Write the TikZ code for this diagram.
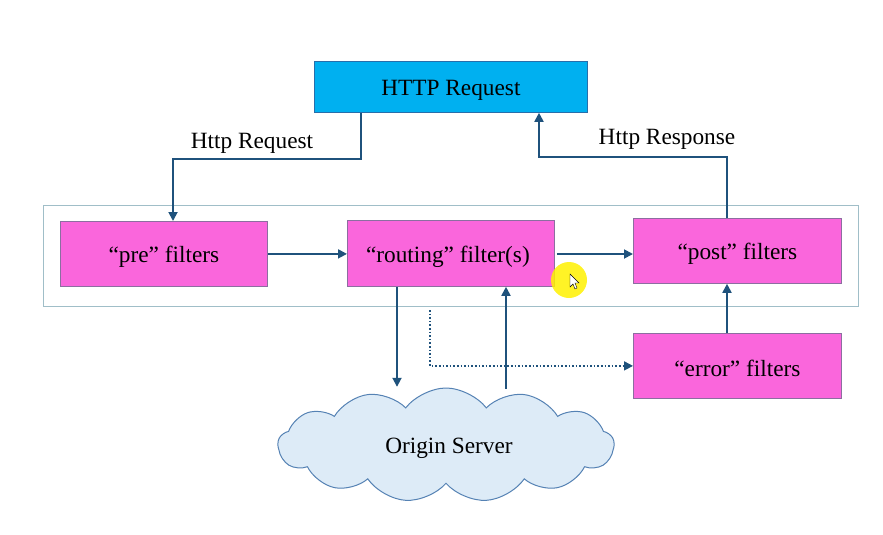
\documentclass[tikz,border=0pt]{standalone}
\usepackage{fontspec}
\setmainfont{Liberation Serif}
\usetikzlibrary{shapes.symbols,arrows.meta}
\definecolor{arrc}{RGB}{31,82,124}
\definecolor{pinkf}{RGB}{250,102,220}
\definecolor{pinkd}{RGB}{140,110,160}
\definecolor{httpf}{RGB}{0,176,240}
\definecolor{httpd}{RGB}{40,110,170}
\definecolor{framec}{RGB}{160,190,200}
\definecolor{cloudf}{RGB}{221,235,247}
\definecolor{cloudd}{RGB}{85,130,180}
\begin{document}
\begin{tikzpicture}[x=1pt,y=-1pt,
  every node/.style={font=\fontsize{23.3}{27}\selectfont},
  filterbox/.style={draw=pinkd, line width=0.8pt, fill=pinkf, inner sep=0pt, anchor=north west},
  arr/.style={draw=arrc, line width=1.8pt, -{Triangle[length=9pt,width=9pt]}},
  dotarr/.style={draw=arrc, line width=1.6pt, dotted, -{Triangle[length=9pt,width=9pt]}}]
\useasboundingbox (0,0) rectangle (883,535);
\fill[white] (0,0) rectangle (883,535);
% frame
\node[draw=framec, line width=1.2pt, inner sep=0pt, anchor=north west, minimum width=815pt, minimum height=101pt] (frame) at (43,205) {};
% boxes
\node[draw=httpd, line width=0.8pt, fill=httpf, inner sep=0pt, anchor=north west, minimum width=273pt, minimum height=51pt] (http) at (314,61) {};
\node at ([yshift=-3pt]http.center) {HTTP Request};
\node[filterbox, minimum width=207pt, minimum height=65pt] (pre) at (60,221) {};
\node at ([yshift=-3pt]pre.center) {“pre” filters};
\node[filterbox, minimum width=207pt, minimum height=66pt] (routing) at (347,220) {};
\node at ([xshift=-3pt,yshift=-3pt]routing.center) {“routing” filter(s)};
\node[filterbox, minimum width=208pt, minimum height=65pt] (post) at (633,218) {};
\node at ([yshift=-3pt]post.center) {“post” filters};
\node[filterbox, minimum width=208pt, minimum height=65pt] (error) at (633,333) {};
\node at ([yshift=-3pt]error.center) {“error” filters};
% cloud
\node[cloud, cloud puffs=13, cloud puff arc=105, cloud ignores aspect, draw=cloudd, line width=1pt, fill=cloudf, minimum width=336pt, minimum height=114pt] (cloud) at (446,445) {};
\node at (449,448) {Origin Server};
% labels
\node (lreq) at (252,143) {Http Request};
\node (lresp) at (667,139) {Http Response};
% connectors
\draw[arr] ([xshift=47pt]http.south west) -- ++(0,46) -| ([xshift=113pt]pre.north west);
\draw[arr] ([xshift=94pt]post.north west) -- ++(0,-61) -| ([xshift=225pt]http.south west);
\draw[arr] (pre.east) -- (pre.east -| routing.west);
\draw[arr] ([xshift=2pt,yshift=-0.6pt]routing.east) -- ([yshift=-0.6pt]routing.east -| post.west);
\draw[arr] ([xshift=50pt]routing.south west) -- ++(0,100);
\draw[arr] ([xshift=159pt]routing.south west) ++(0,102) -- ([xshift=159pt]routing.south west);
\coordinate (d0) at (430,310);
\draw[dotarr] (d0) |- (error.west);
\draw[arr] ([xshift=94pt]error.north west) -- ([xshift=94pt]post.south west);
% cursor highlight
\fill[yellow, opacity=0.85] (569,280) circle (18);
\draw[black, fill=white, line width=0.4pt] (570,274) -- (570,287) -- (573,284) -- (575,289) -- (577,288) -- (575,283) -- (579,283) -- cycle;
\end{tikzpicture}
\end{document}
